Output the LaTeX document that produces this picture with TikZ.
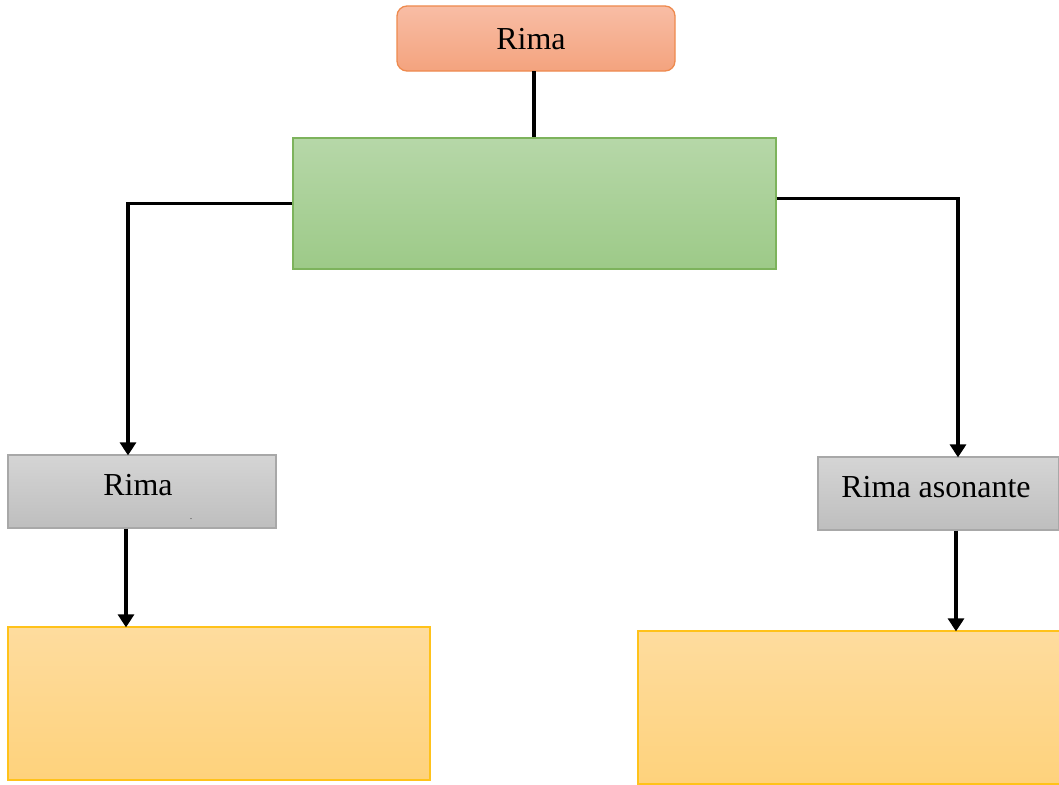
\documentclass[tikz,border=0pt]{standalone}
\usepackage{fontspec}
\setmainfont{Liberation Serif}
\usetikzlibrary{arrows.meta,calc}
\definecolor{orT}{HTML}{F8BDA5}
\definecolor{orB}{HTML}{F4A37E}
\definecolor{orD}{HTML}{EE8A4E}
\definecolor{grT}{HTML}{B6D7A8}
\definecolor{grB}{HTML}{9DCA88}
\definecolor{grD}{HTML}{7DB35C}
\definecolor{gyT}{HTML}{D5D5D5}
\definecolor{gyB}{HTML}{BEBEBE}
\definecolor{gyD}{HTML}{A8A8A8}
\definecolor{yeT}{HTML}{FEDC9E}
\definecolor{yeB}{HTML}{FED27C}
\definecolor{yeD}{HTML}{FFC21A}
\tikzset{
  box/.style={inner sep=0pt, line width=1.3pt},
  orbox/.style={box, draw=orD, top color=orT, bottom color=orB, rounded corners=10pt},
  grbox/.style={box, draw=grD, top color=grT, bottom color=grB},
  gybox/.style={box, draw=gyD, top color=gyT, bottom color=gyB},
  yebox/.style={box, draw=yeD, top color=yeT, bottom color=yeB},
  lbl/.style={anchor=base, inner sep=0pt, font=\fontsize{32}{38}\selectfont},
  conn/.style={line width=3.5pt, black},
  arr/.style={conn, -{Triangle[length=13pt,width=16pt]}, shorten >=-1pt}
}
\begin{document}
\begin{tikzpicture}[x=1pt,y=-1pt]
\useasboundingbox (0,0) rectangle (1059,784);
\clip (0,0) rectangle (1059,784);
% boxes
\path[orbox] (397,6) rectangle (675,71);
\node[minimum width=278pt, minimum height=65pt, inner sep=0pt] (top) at (536,38.5) {};
\node[grbox, minimum width=483pt, minimum height=131pt] (green) at (534.5,203.5) {};
\node[gybox, minimum width=268pt, minimum height=73pt] (lgray) at (142,491.5) {};
\node[gybox, minimum width=241pt, minimum height=73pt] (rgray) at (938.5,493.5) {};
\node[yebox, minimum width=422pt, minimum height=153pt] (lyel) at (219,703.5) {};
\node[yebox, minimum width=422pt, minimum height=153pt] (ryel) at (849,707.5) {};
% texts
\node[lbl] (ttop) at (531,50) {Rima};
\node[lbl] (tlg) at (138,495) {Rima};
\node[lbl] (trg) at (936,497) {Rima asonante};
\node[anchor=base, inner sep=0pt, font=\fontsize{8}{9}\selectfont] (dot) at (191,519) {.};
% connectors
\draw[conn] ([xshift=-2pt]top.south) -- ([xshift=-2pt]top.south |- green.north);
\draw[arr] (green.west) -| ([xshift=-14pt]lgray.north);
\draw[arr] ([yshift=5pt]green.east) -| ([xshift=19.5pt]rgray.north);
\draw[arr] ([xshift=-16pt]lgray.south) -- ([xshift=-16pt]lgray.south |- lyel.north);
\draw[arr] ([xshift=17.5pt]rgray.south) -- ([xshift=17.5pt]rgray.south |- ryel.north);
\end{tikzpicture}
\end{document}
